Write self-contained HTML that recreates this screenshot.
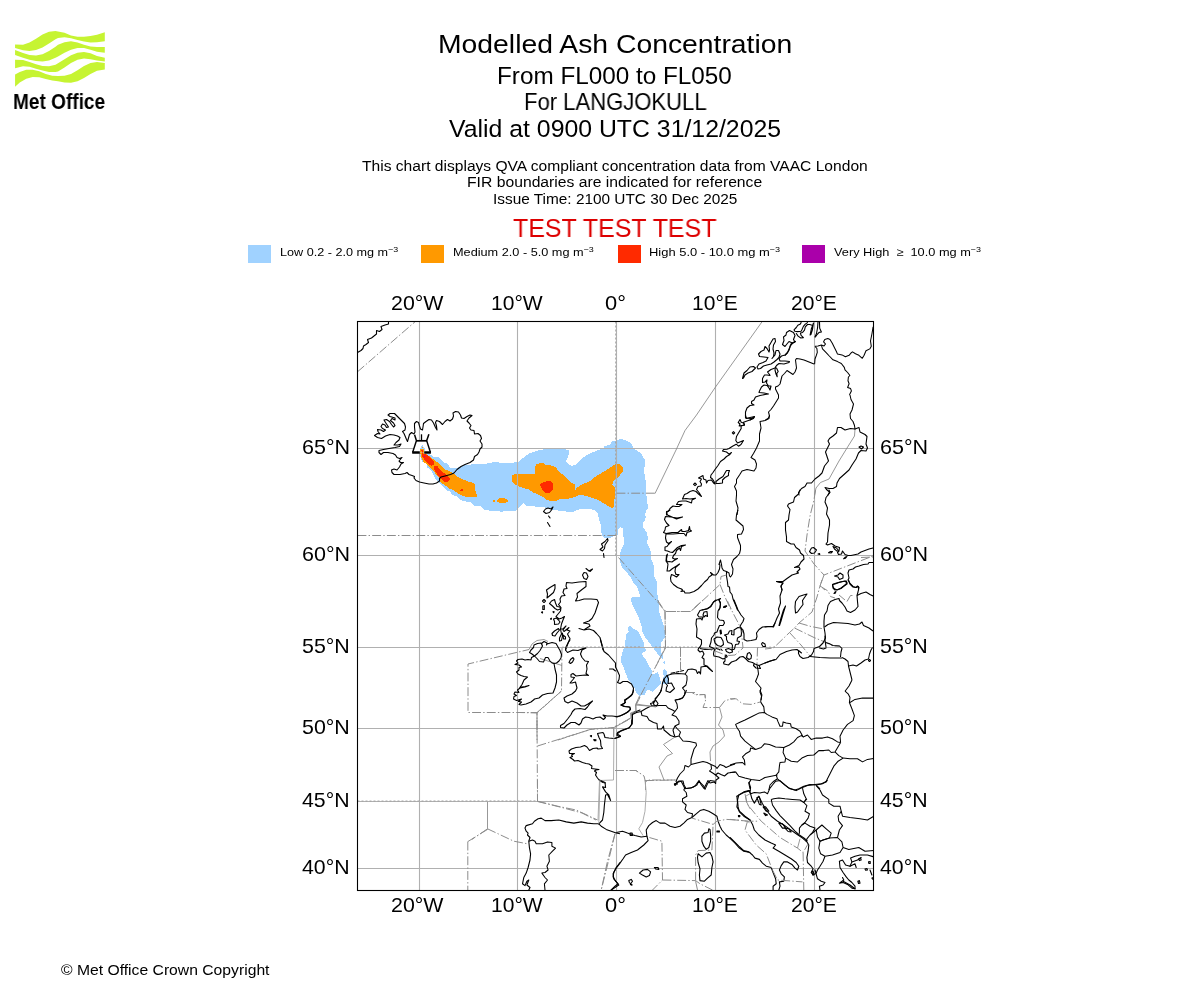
<!DOCTYPE html>
<html><head><meta charset="utf-8"><title>Modelled Ash Concentration</title>
<style>
html,body{margin:0;padding:0;background:#fff;}
body{width:1200px;height:1000px;position:relative;overflow:hidden;font-family:"Liberation Sans",sans-serif;color:#000;}
svg{position:absolute;left:0;top:0;}
.t{position:absolute;white-space:nowrap;line-height:1;transform-origin:0 0;will-change:transform;}
.t sup{font-size:70%;vertical-align:baseline;position:relative;top:-0.52em;line-height:0;}
.sw{position:absolute;top:245px;width:23px;height:18px;}
.c{fill:none;stroke:#000;stroke-width:1.1;stroke-linejoin:round;stroke-linecap:round;}
.b{fill:none;stroke:#000;stroke-width:1.05;stroke-linejoin:round;}
.f{fill:none;stroke:#858585;stroke-width:.85;}
.fd{fill:none;stroke:#8c8c8c;stroke-width:1;stroke-dasharray:8.9 2.2 1.4 2.2;}
.fs{fill:none;stroke:#a4a4a4;stroke-width:.9;}
.fl{fill:none;stroke:#9a9a9a;stroke-width:.8;stroke-dasharray:2 2;}
.g path{stroke:#b0b0b0;stroke-width:1.1;fill:none;}
</style></head><body>
<svg width="1200" height="1000" viewBox="0 0 1200 1000">
<g fill="#c6f432"><path d="M15.07 44.52 L23 44.85 L29.5 42.57 L36 38.67 L42.5 34.45 L49 31.85 L55.5 31.07 L58 31.52 L64.5 32.82 L71 35.42 L77.5 36.72 L84 36.72 L90.5 36.07 L97 34.77 L104.8 32.17 L104.8 41.27 L97 42.25 L90.5 42.57 L84 41.6 L77.5 39.97 L71 38.15 L64.5 37.31 L58 37.89 L55.5 39.32 L49 43.42 L42.5 47.45 L36 50.05 L29.5 51.02 L23 50.37 L15.07 48.1Z"/><path d="M15.07 50.05 L23 52.97 L29.5 54.92 L36 55.57 L42.5 54.27 L49 51.02 L55.5 46.8 L58 44.85 L64.5 42.25 L71 41.27 L77.5 42.57 L84 44.85 L90.5 46.47 L97 47.12 L104.8 47.12 L104.8 52.65 L97 51.67 L90.5 49.72 L84 48.1 L77.5 48.1 L71 49.72 L64.5 52.65 L58 56.55 L55.5 57.85 L49 60.45 L42.5 61.42 L36 61.1 L29.5 59.8 L23 57.85 L15.07 54.92Z"/><path d="M15.07 59.8 L23 60.12 L29.5 62.07 L36 64.35 L42.5 65.97 L49 66.3 L55.5 64.67 L58 63.37 L64.5 59.15 L71 55.25 L77.5 52.65 L84 52 L90.5 53.3 L97 55.9 L104.8 57.85 L104.8 61.42 L97 60.45 L90.5 59.15 L84 58.5 L77.5 59.8 L71 63.05 L64.5 67.6 L58 71.5 L55.5 72.02 L49 71.89 L42.5 70.59 L36 68.64 L29.5 66.82 L23 66.17 L15.07 68.25Z"/><path d="M15.07 74.62 L19.75 71.89 L26.25 69.74 L32.75 69.81 L39.25 71.37 L45.75 73.9 L52.25 75.79 L58 76.05 L64.5 75.72 L71 74.1 L77.5 70.2 L84 65.97 L90.5 63.05 L97 62.07 L104.8 63.05 L104.8 69.55 L97 70.85 L90.5 74.1 L84 78 L77.5 81.25 L71 82.87 L64.5 82.55 L58 81.25 L52.25 80.6 L45.75 78.97 L39.25 77.35 L32.75 77.02 L26.25 78.65 L19.75 82.55 L15.07 86.77Z"/></g>
<defs><clipPath id="cp"><rect x="357.5" y="321.5" width="516.0" height="569.0"/></clipPath></defs>
<g clip-path="url(#cp)">
<g id="pl">
<path d="M422.4 445.1 L423.1 445.4 L423.8 447.6 L424.9 449 L424.5 451.2 L424.2 453.7 L429.2 453.9 L431 454.8 L433 456.5 L439 457 L443 462 L447 463.5 L450 467.5 L456 468 L464 465.5 L474 464 L483 464.5 L489 463 L495 462 L499 462.5 L510 462.8 L510 463 L518 462 L523 458 L530 453 L536 451 L543 449.5 L551 448 L560 447.5 L564 449 L568.5 450.5 L569 454 L567 459 L566 462 L569 464.5 L572 466 L576 464.5 L580 460 L582 458 L589 454 L598 450 L604 448.5 L604.5 446 L610 445 L612 441.5 L616 441 L620 439 L625 440 L625 440 L630 442.5 L632.5 445.5 L633 448.5 L637 450.5 L641 453.5 L643 457.5 L645 460 L645 465 L644 470 L645 477 L646 482 L646 494 L647 498 L647 504 L648 505 L648 508 L646 511 L645 515 L646 517 L645 520 L643 523 L643 523 L643.5 528 L646.5 532 L648 538 L647 543 L650 549 L651 553 L650.5 558 L653 563 L654.5 570 L654 576 L656.5 581 L656.5 588 L657.5 595 L659 603 L659 610 L659 610 L660 615 L662 620 L664 627 L665 633 L665 637 L663 640 L661 642 L661 647 L661 652 L663 656 L663 659 L660 657 L657 653 L654 649 L651 645 L648 641 L645 637 L642.5 632 L642 627 L640 621 L637.5 615 L635 610 L637 614 L634.5 609 L632 604 L631 599 L632 596.5 L639 597.5 L640 596 L639 592 L637 587 L633 582 L631 578 L628 574 L624 570 L621 565 L619.5 560 L620 553 L622 548 L624 544 L624 540 L623 533 L622.5 528 L620 527 L618.5 529 L617.5 535 L614 536 L610 538 L605 538.5 L603 537 L601.5 533 L601 526 L600 520 L601 525 L599 520 L598 514 L596 511 L590 509 L584 509.5 L580 509 L574 511.5 L566 511.5 L554 510 L545 507.5 L530 506 L526.5 505.5 L523.5 503 L518 508 L516 510.5 L510 510.5 L515 510 L503 511.5 L500 511.5 L489 510.5 L484.5 510 L481 506.5 L474 505.5 L471 502.5 L466 501.5 L460 500 L458 497 L452 495 L451 492 L446 490 L443 486.5 L438 482 L435 478 L433 474 L431 470 L427.5 467.5 L426.5 464 L422.5 462 L420.9 458.4 L419.8 454.1 L419.8 449 L420.9 448 L421.3 446.2Z" fill="#a0d2ff" shape-rendering="crispEdges"/>
<path d="M630 626 L628 627.5 L628.5 631.5 L626 635 L625.5 640 L625 647 L623 650 L622 654 L621 658 L621.5 663 L624 668 L625.5 673 L628 679 L631 683 L634.5 688 L636 692 L639.5 696 L645 694.5 L646.5 690.5 L649 690 L652.5 691.5 L657 687.5 L661 683.5 L660 679 L658.5 674 L657.5 672 L654.5 674 L652 674 L651.5 669.5 L648 664.5 L646 659.5 L643 656.5 L642 653.5 L645.5 651 L645.5 648.5 L644 646 L643.5 642 L641.5 638 L639.5 633.5 L637 630.5 L633 628.5Z" fill="#a0d2ff" shape-rendering="crispEdges"/>
<path d="M662 662 L665 661 L665 665Z" fill="#a0d2ff" shape-rendering="crispEdges"/>
<path d="M662.5 670 L664.5 669 L667 671.5 L667.5 674.5 L669.5 675 L669 684 L663.5 683.5 L663 679 L664 676 L663 674Z" fill="#a0d2ff" shape-rendering="crispEdges"/>
<path d="M419.8 449 L423.8 449 L423.8 453.7 L426.3 454.4 L429.2 455.9 L432.1 458.4 L435.3 460.6 L440 464.5 L444 469 L448 470.5 L453 473 L457 476.5 L463 479.5 L468 481.5 L474 483 L475 484.5 L475 490 L476.5 494 L476.5 496.5 L467.5 497.5 L463 496 L459 494 L454 490.5 L449 488.5 L444 484.5 L440 482 L439 478 L436 475 L434 471 L430 468 L426.5 464 L423.4 462 L422.4 459.5 L421.3 457.7 L420.9 454.8 L419.8 453.4Z" fill="#ff9900" shape-rendering="crispEdges"/>
<path d="M497 500 L499 498.3 L504 498 L507.5 499.5 L507.8 501.5 L506 502.8 L500 502.8 L497.5 501.5Z" fill="#ff9900" shape-rendering="crispEdges"/>
<path d="M493 500 L495 500 L495 502 L493 502Z" fill="#ff9900" shape-rendering="crispEdges"/>
<path d="M422 446.9 L423.1 446.9 L423.1 448 L422 448Z" fill="#ff9900" shape-rendering="crispEdges"/>
<path d="M511.5 479 L512.5 475.5 L515 474 L522 474.5 L530 474 L535 473.5 L535 467 L536.5 464.5 L540 463 L544 463.5 L546 465 L551 465.5 L556 467.5 L558 470.5 L562 474 L566 477.5 L570 482 L575 484.5 L575.5 490 L577 487.5 L582 484.5 L590 481 L595 477 L600 474 L605 471 L610 467.5 L615 464.5 L619 464 L623 467.5 L623 471 L620 475 L617 478 L615 479.5 L613 482 L612.5 484.5 L615 488 L615.5 494 L614.5 499 L613.5 502 L614 506.5 L612 508 L608.5 506.5 L604 503.5 L598 500 L592 498 L586 496 L581 494.5 L578 495.5 L572 498 L566 499 L560 499 L557 500.5 L551 501 L546 500 L543 497 L538 494.5 L533 492.5 L529 489.5 L523 488 L518 486 L514 484 L511.5 481Z" fill="#ff9900" shape-rendering="crispEdges"/>
<path d="M420.9 450.1 L422.7 450.1 L422.7 451.2 L423.1 451.2 L423.1 453.7 L424.2 453.7 L427 454.8 L429.9 457.3 L432.8 460.2 L434 462 L434.5 464 L431.5 466 L428.5 464 L425 460.5 L424.2 459.1 L422 457 L422 454.1 L421.6 453.7 L421.6 451.2 L420.9 451.2Z" fill="#ff2a00" shape-rendering="crispEdges"/>
<path d="M434 466 L437.5 466.5 L440 469.5 L444 473 L447.5 476 L450 479 L448 481.5 L444.5 481.5 L441 479 L438 475.5 L435.5 472 L434 468.5Z" fill="#ff2a00" shape-rendering="crispEdges"/>
<path d="M460 490.5 L461.5 489 L463 489.2 L462.8 490.5 L461 491.2Z" fill="#ff2a00" shape-rendering="crispEdges"/>
<path d="M539 485 L543 482.5 L547 481 L551 481.5 L553 484 L553 490 L550 492.5 L545.5 492.5 L542.5 490 L541 487Z" fill="#ff2a00" shape-rendering="crispEdges"/>
<path d="M424 456 L425 456 L425 457 L424 457Z" fill="#aa00aa" shape-rendering="crispEdges"/>
</g>
<g class="g"><path d="M419.5 321.5 V890.5"/><path d="M517.5 321.5 V890.5"/><path d="M616.5 321.5 V890.5"/><path d="M715.5 321.5 V890.5"/><path d="M814.5 321.5 V890.5"/><path d="M357.5 448.5 H873.5"/><path d="M357.5 555.5 H873.5"/><path d="M357.5 647.5 H873.5"/><path d="M357.5 728.5 H873.5"/><path d="M357.5 801.5 H873.5"/><path d="M357.5 868.5 H873.5"/></g>
<path class="c" d="M357.5 352.5 L361 350.5 L363 348.5 L363.5 346 L366 344.5 L368.5 342.5 L367.5 339.5 L371.5 338 L376.5 334 L376.5 330.5 L379.5 331.5 L382 329.5 L381 326.5 L385 325 L388.5 324 L388.5 321.8"/>
<path class="fd" d="M357.5 371.8 L415 321.8"/>
<path class="c" d="M374.5 435.5 L377.5 433.5 L380 434 L378 431.5 L377.5 429.5 L381 430 L383.5 431.5 L385.5 430 L382.5 428.5 L381 426.5 L382.5 424 L385 425 L386.5 427.5 L388.5 427 L385.5 422.5 L384 420 L386.5 419.5 L389.5 421.5 L391.5 424.5 L393.5 427 L395 425.5 L393.5 423 L390.5 420.5 L392 418.5 L395 420 L395 418 L390 416.5 L388 415 L390 413.5 L394.5 413.5 L397.5 416.5 L401 420 L404.5 423.5 L405.5 427 L405 430 L402.5 431.5 L404 433.5 L405.5 437 L406.5 439.5 L407.5 441.5 L408.5 438 L409.5 434.5 L411.5 432.5 L414 434 L415 432 L414.5 427 L414.5 423.5 L416.5 421.5 L418.5 422.5 L419.5 426 L420.5 429 L422.5 430 L423 427 L423.5 423.5 L426 421.5 L429 419.5 L431.5 420 L433.5 423 L435.5 427.5 L437 430 L436.5 426 L435.5 422.5 L436.5 420.5 L439.5 421.5 L442.5 424.5 L445 421.5 L447.5 419.5 L450 421 L452.5 419 L453.5 416 L453 413 L455.5 411.5 L458.5 412 L460.5 415 L461.5 418 L464 418.5 L467 416.5 L470 415 L472 415.5 L469 418 L467 421 L469 423 L471 425.5 L469.5 428 L471 430 L474 430.5 L474.5 434 L478 433.5 L480.5 435.5 L481.5 438.5 L480 441 L482 444 L482 447 L480 449 L479 452 L477.5 454.5 L474.5 456.5 L473.5 460 L470 462.5 L465 464.5 L461 466.5 L457 469.5 L454 473 L450.5 474.5 L445 476 L441 477 L439.5 478.5 L439.5 481 L436.5 483 L433 484 L429 484 L424 483 L419.5 482 L416 480.5 L414 478 L414.5 476.5 L412 475.5 L409 474.5 L407 472.5 L405 473.5 L400 474.5 L394 474.5 L392 472.5 L391.5 470 L394 469 L397 470 L399.5 467 L401 464 L403.5 462.5 L400.5 462.5 L399 461 L402 457.5 L399.5 458.5 L397 457.5 L395.5 455 L393 453.5 L388 452.5 L383.5 452.5 L381 454.5 L379 452.5 L379 450.5 L383.5 449.5 L389 448.5 L395 447.5 L399.5 446.5 L401 444 L398 445 L394 445 L396 442.5 L399 440 L400 437.5 L397.5 436 L394 435 L390 434.5 L385.5 436 L381.5 438.5 L377.5 437.5Z"/>
<path class="f" d="M762 321.8 L715.5 387"/>
<path class="c" d="M742.5 378.5 L744 373 L747 370.5 L750 367 L753.5 366.5 L755.5 368 L752 371.5 L748 373 L745 375 L743.5 378Z"/>
<path class="c" d="M757 367 L759 364 L763 362.5 L766 361 L768 357.5 L764 357 L759.5 356.5 L758.5 354 L761 351.5 L764 350 L765 346.5 L767 348.5 L769 352 L769.5 350 L769 346 L771 342.5 L773 339 L775 338.5 L775.5 341.5 L773.5 345 L773 349 L774 353 L773.5 356.5 L772 358.5 L775 355 L776 350.5 L778.5 350.5 L780 354 L779 357.5 L777 359.5 L774 362 L771 364 L767 365 L763.5 366 L760.5 368.5 L758 369Z"/>
<path class="c" d="M795 341.5 L791 344 L789.5 348 L787.5 352.5 L785 355 L781.5 356 L779 358.5 L780 361 L785 361 L789.5 361.5 L789 362.5 L784 364 L779 363.5 L776.5 365.5 L775 368 L771 369.5 L767.5 372 L769.5 374.5 L770 375.5 L767 375 L764.5 375 L762.5 378.5 L762.5 382.5 L765 382 L767 380 L766.5 383 L768.5 386 L771 386 L770 390 L769 388 L767 385.5 L764 385 L761.5 387 L759.5 391 L759 392.5 L764 393 L768.5 394 L765 394.5 L760 395.5 L755.5 397 L754 400 L751.5 401.5 L751.5 403.5 L754 405 L750 405.5 L747 408 L745.5 412 L745.5 415.5 L746.5 418.5 L750 417.5 L754.5 416.5 L753.5 418.5 L750 420"/>
<path class="c" d="M775.5 367 L775 370 L776 374 L777.2 376.8 L776.8 373.5 L778.2 371.5 L776.5 368"/>
<path class="b" d="M814 364 L809 362 L804 360 L800 359 L796.5 358.5 L795.5 360 L796 364 L796.5 368 L795 372 L793 374.5 L790 372.5 L787 370.5 L784.5 373.5 L782 376 L781 380 L780 384 L778 386 L775.5 387 L775.5 389 L777 392 L778.5 395 L778.5 398 L776 402 L773.5 406 L771 409.5 L768.5 412 L769.5 416 L768 418.5 L765.5 420"/>
<path class="b" d="M873.1 326.8 L872 333.5 L870.5 341 L871.3 346.3 L869.8 348.9 L866 350.8 L864.1 355.3 L862.3 358.3 L858.9 355.3 L855.5 353.8 L852.5 351.9 L851 353 L849.1 355.3 L845.4 356.8 L842 354.9 L837.5 354.1 L836.4 351.5 L834.5 347.8 L832.3 343.3 L830 339.5 L827.8 338.6 L824.8 339.5 L823.6 341.8 L825.5 344 L824 345.9 L821.4 345.1 L818 345.9 L815 346.3"/>
<path class="b" d="M821.4 345.1 L822.5 348.9 L825.9 352.3 L829.3 356 L833 359.8 L837.5 361.6 L841.3 363.5 L844.3 367.3 L845 369.9 L847.6 372.5 L849.9 375.5 L848.4 377 L848 380.8 L849.1 383.8 L847.6 387.5 L850.6 388.6 L851.4 390.9 L849.9 393.9 L849.5 395"/>
<path class="b" d="M815 346.3 L816.9 348.5 L817.3 352.3 L816.1 356 L815 359 L814.6 364.3"/>
<path class="c" d="M815 336.9 L816.5 333.5 L817.6 327.5 L818 321.9"/>
<path class="c" d="M819.5 321.9 L819.7 328.3 L821.4 332 L819.1 332.4 L817.3 334.3 L815.4 336.9"/>
<path class="c" d="M810.1 335 L811.3 329 L813.5 323 L812.4 329.8 L810.9 334.6Z"/>
<path class="c" d="M801.1 322.6 L800.4 324.1 L797.8 325.3 L796.3 327.5 L794 329.8 L794.8 331.3 L797.4 331.6 L801.1 331.3 L801.9 329.8 L803.4 326.4 L805.3 324.1 L807.5 322.6"/>
<path class="c" d="M807.5 324.5 L809.8 324.5 L812 325.3"/>
<path class="c" d="M796.3 333.5 L798.1 336.1 L800.8 338 L803.4 337.6 L801.1 335.4 L800.4 333.1 L802.6 332.4 L804.5 330.1 L805.3 326.8 L807.5 324.5"/>
<path class="c" d="M782.5 344.5 L784 340.5 L783.5 337 L786 335 L786.5 332.5 L789.5 330.5 L793.5 332.5 L795 335.5 L793.5 339.5 L795 342 L792.5 343 L789 341.5 L786.5 344.5 L785 346.5Z"/>
<path class="c" d="M795.5 341.4 L792.5 343.3 L790.3 345.9 L789.1 350 L787.3 353 L785 355.3"/>
<path class="f" d="M696.5 415 L685 430.5 L676.5 449 L655 493.5"/>
<path class="c" d="M745.5 415 L745.5 418 L751 418.5 L754.5 416.8 L750.5 419.8 L743.5 422.2 L744.5 425 L741 426 L741.2 428.5 L738.5 433 L736.5 436.5 L735.8 440.5 L737.5 443 L743.5 440.5 L741 444.5 L738.5 446.2 L736.2 444.2 L732.5 446.2 L729 448.5 L727 449.2 L723.5 449.5 L722.5 451 L726.5 452 L729 454.2 L731.5 452.5 L729.5 454.8 L726.5 456.5 L724 459 L720.5 461.5 L718 465.5 L715 469.5 L713 472.5 L711 475 L710.5 477.5 L712.5 479 L714 481.5 L715 484 L713.5 483 L711.5 480 L708 480.5 L706.5 483 L706 480 L703.5 479 L703 475.5 L698.5 478 L701.5 479 L700 481.5 L701.5 484 L701 486 L698 486.5 L696.5 489.5 L699 492.5 L701.5 496.5 L698.5 494 L696 491.5 L693 490.5 L690 491.5 L687 493.5 L684.5 494.5 L682.5 499 L686 498.5 L690 499 L695.5 498.2 L692 500 L691.5 503 L689 502 L686 501 L682 501 L678.5 501.5 L676.5 504.5 L682 504.5 L679 506.5 L676 506.5 L673 506 L670 508.5 L668.5 511 L666.5 511.5 L666.5 515"/>
<path class="c" d="M732.3 432.8 L733.5 431.6 L734.7 432.8 L733.5 434Z"/>
<path class="c" d="M693.5 484.3 L695 483 L696.5 484.3 L695 485.6Z"/>
<path class="c" d="M716 481.5 L719 479 L723 476.5 L725 473 L726.5 470.5 L729.5 470.5 L728.5 473 L728.5 475.5 L725 477.5 L722.5 480 L722.5 483 L719 483.5 L716 483.5Z"/>
<path class="c" d="M740 419.5 L738.2 422.5 L740 424 L739.2 426 L742 425.5 L744.5 425 L743.5 423 L741.2 422.2Z"/>
<path class="b" d="M769.5 415 L769 418.5 L765 420.5 L760 421.5 L761 428 L759.5 434 L759.5 441 L756.5 448 L753.5 453.5 L751 457.5 L755 460 L756.5 464 L756 468 L754 471 L747 469.5 L742 471 L739.5 475 L736.5 479.5 L736.5 483 L734.5 486.5 L736.5 491 L736.5 495 L736 501 L738 508 L737 515"/>
<path class="c" d="M670 510 L666.5 512.5 L667.5 515 L672 517 L676.5 519 L682.5 517 L677 518 L671 517 L665.5 516.5 L664.5 519.5 L666.5 523 L669 525.5 L665.5 527 L665 530 L663.5 532.5 L666 533.5 L672 532.5 L678 532.5 L681.5 529.5 L682 531.5 L685 531.5 L688.5 530.5 L689.5 526.5 L690 530 L691.5 531 L687 532.5 L686 536 L684 533.5 L679 533.5 L673 534 L666 534 L665.5 538 L666.5 542 L668.5 543.5 L671.5 541.5 L668.5 544.5 L667 546.5 L665 547 L665 550.5 L667.5 551 L670 552 L672.5 552.5 L675 550 L677.5 547.5 L681.5 545.5 L685.5 545 L681.5 546.5 L680.5 550.5 L679.5 548 L676.5 550.5 L675.5 553.5 L673.5 555.5 L672.5 558 L674.5 559 L677.5 558.5 L674 560.5 L672 562 L669 561.5 L667 562 L666.5 559 L667.5 554 L666.5 555.5 L666 561 L668 564 L667.5 568 L667 571 L669.5 571 L672.5 568.5 L676.5 566 L679.5 564 L675.5 567.5 L675 571.5 L676 574.5 L679 574.5 L676.5 577 L674 575.5 L671.5 574.5 L670.5 578 L671 581.5 L673.5 584.5 L677.5 587.5 L681.5 589 L682.5 590 L681 591.5 L684 591 L685 593 L689.5 593 L694 591.5 L698 589 L701.5 585.5 L704.5 582 L707.5 579.5 L709 577 L712 575 L710.5 572.5 L713.5 575 L716 575 L718 572.5 L719.5 569 L720 565 L719 564.5 L720.5 560 L721.5 564.5 L722 568 L723.5 570.5 L726.5 571.5"/>
<path class="b" d="M738 510 L736.5 515 L736 520 L739.5 523 L743 526 L743.5 529.5 L741.5 534 L737.5 534.5 L737.5 537.5 L739 541.5 L740.5 545.5 L740.5 549.5 L739.5 553.5 L737 556.5 L733.5 559.5 L731.5 564.5 L733 569 L732.5 574 L730.5 577 L729.5 576 L729 573 L726.5 571.5"/>
<path class="c" d="M726.5 571.5 L726.5 576 L727.5 582 L728 586.5 L729.5 587 L730 592 L732 594.5 L733 599 L734.5 602.5 L736 606 L737.5 610"/>
<path class="fd" d="M726.5 575 L721 576.5 L720 584.5 L692.5 610"/>
<path class="fd" d="M720 584.5 L725 597 L731 610"/>
<path class="c" d="M702 610 L707 609 L710 607 L713.5 602 L716 600.5 L720.5 598.5 L719 600 L720.5 604 L720 608 L719 610"/>
<path class="c" d="M723.5 607.2 L725 606.2 L726.6 606 L725.2 607.2Z"/>
<path class="fd" d="M657.5 600 L665 611.5 L690.5 611.5 L703 600"/>
<path class="fd" d="M665 611.5 L665.5 647 L655 668"/>
<path class="fl" d="M655 647 L700 647"/>
<path class="fd" d="M700 647 L707 649 L715 651 L723 654 L729 655.5 L735 655 L743 648 L742 638 L740.5 628 L738 622.5 L733 613 L727 600"/>
<path class="fd" d="M680.5 647 L680.5 669 L683 671.5"/>
<path class="fl" d="M775 647 L757.5 647.6"/>
<path class="fd" d="M757.5 647.6 L757 664"/>
<path class="fd" d="M686 692.5 L692 692.5 L695 694.5 L705 694.5 L705.5 700"/>
<path class="c" d="M698.5 648.5 L700 647 L701.5 644 L701.5 640 L696.5 637 L697 629 L696 624 L696.5 619 L701 618.5 L702 620 L703 617 L699 617 L697.5 615 L700 610.5 L704 609.5 L707.5 608.5 L711 606.5 L713.5 602 L716 600"/>
<path class="c" d="M719 600 L720.5 602.5 L720 607.5 L718 611 L717.5 617.5 L719.5 620 L723.5 620.5 L724.5 623 L723 625.5 L719.5 625.5 L718 629 L717 632 L714.5 633 L714 635 L711.5 638 L711 642 L709.5 646.5 L713 648 L715 649.5 L714 651 L713.5 654 L714 656 L719 657 L723 659 L725 658 L725 661 L723.5 662.5 L724 664 L728.5 665 L731.5 662 L736 660.5 L740 657 L743 656.5 L745.5 658.5 L748.5 661.5 L752.5 662.5 L755 664 L759 665.5 L760.5 668.5 L756 668 L753.5 665.5 L754 664"/>
<path class="c" d="M704 612 L707 611.5 L707.5 616.5 L705.5 615.5 L704 617 L703 615Z"/>
<path class="c" d="M746.5 657.5 L747.5 653.5 L749.5 652.5 L751.5 655.5 L751 658.5 L749 659.5Z"/>
<path class="b" d="M757 665 L758 670 L758.5 674 L757 678 L755.5 681.5 L758.5 685 L761 688 L760 692 L761.5 696 L761 700"/>
<path class="c" d="M759 665.5 L765 663 L775 659.5"/>
<path class="c" d="M714 639 L717 637 L721 637.5 L723 641 L723.5 644.5 L721 646.5 L717.5 645.5 L715 643Z"/>
<path class="c" d="M724.5 635 L728 634 L729.5 631 L732 630.5 L731.5 634.5 L734 635 L734 630 L738 627.5 L741 628 L742 631 L741 636 L737.5 638 L737 641 L739.5 641.5 L738.5 644 L735.5 644.5 L734.5 649 L732 650 L732.5 645.5 L731.5 643.5 L728 642.5 L726.5 639.5 L726.5 636.5Z"/>
<path class="c" d="M725.5 649.5 L728.5 648.5 L732 650 L732.5 652 L729.5 653 L726.5 651.5Z"/>
<path class="c" d="M720 630.5 L721 630 L721.5 633.5 L720.5 634Z"/>
<path class="c" d="M716 648 L717.5 649"/>
<path class="c" d="M718.5 649 L720 650"/>
<path class="c" d="M721 649 L722.2 650.5"/>
<path class="c" d="M725 656 L726.5 655.2 L727.2 656.8 L725.8 657.5Z"/>
<path class="c" d="M723.5 607.2 L725 606.2 L726.6 606 L725.2 607.2Z"/>
<path class="c" d="M734 600 L736 605 L738 610 L741 615 L744 618.5 L743 621.5 L741 624.5 L740 626.5 L743 630 L744 634 L744 639.5 L747 641 L751 640.5 L756 639.5 L757 636.5 L756.5 633 L759 629.5 L762.5 627 L768 626.5 L773 626.5 L775 623"/>
<path class="c" d="M761.5 644 L762.5 642.5 L765 644 L765.5 646.5 L763 646.5Z"/>
<path class="b" d="M700 648.5 L705 649.5 L713.5 649"/>
<path class="c" d="M698.5 648.5 L698 650 L700 652 L702.5 651 L704 654 L702 657.5 L704 659 L704 665 L707 666 L709.5 668.5 L712.5 671.5 L709.5 669 L707 666.5 L704 666.5 L701 667 L700.5 674 L699 671.5 L697.5 673.5 L696 670 L692 669 L688 669.5 L686.5 672 L685 674 L678 673.5 L672 674 L667 675.5 L664 679 L662.5 683 L662 687 L660.5 692 L657 697 L655 699"/>
<path class="c" d="M667 675.5 L668.5 679 L668 683.5 L671.5 683 L673 686 L674.5 688.5 L670 692.5 L666 691 L666.5 687.5 L667.5 685.5 L664.5 682 L664 679"/>
<path class="c" d="M671 673.2 L674.5 672.5"/>
<path class="c" d="M676 672.2 L679 671.5"/>
<path class="c" d="M680.5 671.2 L683.5 670.5"/>
<path class="b" d="M685 674 L687 676 L687 680 L686 685 L682.5 688 L685 691 L684.5 695 L682 698.5 L675.5 700"/>
<path class="f" d="M715.5 387 L696.5 415"/>
<path class="fd" d="M616.5 493.2 L655.5 493.2"/>
<path class="b" d="M850 395 L851 399.5 L853.5 404 L852 410 L850 414 L850.5 418.5 L853 421.5 L854.5 425.5 L855 429"/>
<path class="f" d="M855 429 L854.5 436 L847 448 L839 461 L829 479 L820.5 482.5 L816 488 L814.5 495"/>
<path class="c" d="M855 429 L850.5 428.5 L845 430 L841 427.5 L837.5 427.5 L836.5 433 L833 436 L829.5 438.5 L828 441 L829.5 444 L827.5 448 L825.5 452 L827 456.5 L828.5 461 L824.5 466 L822 473 L819 476 L815 479 L811.5 483 L807 483 L805 486.5 L801.5 488.5 L798.5 492.5 L799 495"/>
<path class="c" d="M855 429 L859 427.5 L860 432 L865 434.5 L867 436.5 L866 444 L867.5 448 L866 451 L861 450.5 L858.5 453 L856 459 L852 465 L849 470 L844 474.5 L839.5 478.5 L837 483 L836.5 486.5 L833 488.5 L829 488.5 L825 487.5 L826.5 489.5 L829.5 492 L828 495"/>
<path class="c" d="M859 447 L861 446 L863.5 447 L861.5 449Z"/>
<path class="c" d="M800 490 L798.5 494 L794.5 497.5 L793.5 502 L788.5 504 L787.5 506 L790 509.5 L789 515 L788.5 520 L785.5 522.5 L785.5 530 L786.5 537 L786.5 541.5 L791 544 L794 544 L796 547.5 L799.5 550 L800.5 553 L803.5 555.5 L804 559 L801 562 L799 565.5 L794.5 567.5 L799 567 L800 569 L797 572 L798.5 573 L792 575 L787 578.5 L783 581.5 L776.5 581.5 L783 583 L781 586 L782 590"/>
<path class="fd" d="M815.5 490 L814 500 L810 516 L807 535 L805 551 L814 564 L824 575 L873 556"/>
<path class="fd" d="M824 575 L820 586 L825 590"/>
<path class="fd" d="M861 557.5 L873 557"/>
<path class="c" d="M829 490 L830 492.5 L826 497.5 L825 502 L827.5 508 L826.5 514 L829.5 520 L829.5 525 L828 533 L827.5 542 L826 544 L827.5 545 L831.5 543.5 L835 546 L839.5 547.5 L839 551 L837.5 552.5 L838.5 554.5 L841.5 554 L842.5 551 L845 554.5 L848 555.5 L851 555.5 L858 554 L861 552 L865 550.5 L869 549 L873 548"/>
<path class="c" d="M809.5 551.5 L811.5 548 L813.5 547.5 L816.5 550 L814.5 553 L811.5 553.5Z"/>
<path class="c" d="M818 554 L819.5 553.5 L819.8 554.5Z"/>
<path class="c" d="M828.5 552.8 L830.5 551.5 L832.5 551.5 L831 553Z"/>
<path class="c" d="M833 546.5 L836.5 548 L838.5 550.5 L837 551.2 L834.5 549Z"/>
<path class="c" d="M843.5 558.8 L845.5 557 L847 556.5 L845.5 558.2Z"/>
<path class="c" d="M873 562.5 L869 562.5 L868 564 L863.5 564.5 L859 566 L855.5 567 L853 569 L849 570 L848 573 L849 578 L848 580 L850 583.5 L853 586.5 L856 587.5 L858.5 586.5 L858.5 590"/>
<path class="c" d="M834.5 576 L838 575 L840 573 L843 575 L843 578 L839.5 579.5 L838 577Z"/>
<path class="c" d="M832.5 584.5 L835 584 L839 582.5 L843 581.5 L846.5 581 L847 584 L844 586 L841 588.5 L837 590 L834 588.5 L833 586.5Z"/>
<path class="c" d="M776.5 581.5 L783 583 L781 586 L782 590 L780 596 L780.5 603 L778.5 609 L779.5 613 L777 618 L775 623 L773.5 627 L770 626.5 L765 627"/>
<path class="c" d="M779 625.5 L781 618 L783.5 610 L785.5 606 L783 614 L781 621 L779.5 625.5Z"/>
<path class="c" d="M795.5 613 L795 607 L795.5 601.5 L799 596.5 L803.5 595 L807 594 L804.5 597.5 L802.5 600.5 L803 604.5 L800 608.5 L797.5 612Z"/>
<path class="fd" d="M822 580 L820 586 L817 597 L814 606 L812 612 L799 623 L794.5 628 L789.5 632.5 L773.5 648 L765 649"/>
<path class="fd" d="M820 586 L828 591 L830.5 596.5 L835 598"/>
<path class="fd" d="M799 623 L811 626.5 L824 629"/>
<path class="fd" d="M794.5 628 L814 637.5 L826 642.5 L833 646 L839.5 646"/>
<path class="fd" d="M789.5 632.5 L801 645 L810 656"/>
<path class="fd" d="M839 595 L845 600"/>
<path class="fd" d="M847 601.5 L850.5 595.5 L853 595.5"/>
<path class="c" d="M832.5 584.5 L835 583.5 L840 582 L845 581 L847 583 L844.5 585.5 L841 588 L838 589.5 L835 590 L833 588Z"/>
<path class="c" d="M834 593.5 L835 592 L836 591.5 L835.2 593.2Z"/>
<path class="c" d="M848.5 580 L850 584 L853 587 L856 587.5 L857.5 586 L859 587.5 L858 592 L857 595.5 L857.5 601.5 L858 606.5 L855 610 L850.5 612.5 L847 611 L845 607 L842 603 L839.5 600.5 L839 598.5 L835 599.5 L830.5 601.5 L828 605.5 L827 611 L824.5 615 L824 621 L824 627 L825 633 L825.5 638 L823 643 L819.5 646.5 L814 648.5 L813.5 651.5 L811.5 655 L808 657.5 L803 658.5 L800 656.5 L798.5 653.5 L798.5 650.5 L801.5 653 L797 649.5 L792 650 L786.5 651.5 L780 654.5 L776 659.5 L770 661 L765 663"/>
<path class="b" d="M857 595.5 L861 593.5 L866 592 L870 594.5 L873 596"/>
<path class="b" d="M824.5 627 L828 624.5 L833.5 622.5 L841 623 L848 623.5 L855 625 L859.5 624 L862 622 L863.5 625.5 L869 628 L873 631"/>
<path class="b" d="M825.5 642.5 L829 643.5 L833 645.5 L839.5 646 L842 648.5 L841 652 L840.5 657"/>
<path class="b" d="M810 656.5 L820 657.5 L830 658 L842 658"/>
<path class="b" d="M842 657.5 L845 659 L848 661.5 L848.5 666 L850 672 L852 680"/>
<path class="b" d="M848.5 666 L853 665 L856.5 666 L861 663 L865 660 L868.5 659 L869.5 654 L871 650 L872.5 647.5"/>
<path class="c" d="M868.5 660.5 L869.5 659.5 L870.5 660.5 L869.5 661.5Z"/>
<path class="c" d="M825 636 L825 640 L826 647"/>
<path class="c" d="M819.5 648 L823.5 649 L826 648"/>
<path class="c" d="M603 650 L602.5 647 L601.5 643 L600 637.5 L596.5 633.5 L593.5 630.5 L589 629 L584 630 L579 628.5 L584 630 L586 628.5 L590 626 L589 624 L583.5 623 L589 621 L592 618.5 L595 613 L597 607 L598.5 602.5 L597 599.5 L591 599 L584 599 L579 600.5 L575.5 601 L577.5 597 L577 593.5 L582 589.5 L586 586.5 L586 581.5 L579 582 L572 583 L566.5 582.5 L566 586 L567 588.5 L564 589 L563 592.5 L565 595.5 L561.5 596 L560 599 L560.5 602 L558.5 604.5 L561 607.5 L560.5 611 L558.5 613.5 L556 616.5 L559 619 L562 618 L564.5 616.5 L563 620 L561.5 624 L560.5 629 L563 629 L566 626 L563 630 L564 631.5 L569 627.5 L567 630 L570 631 L567.5 634 L569 637 L570 638.5 L568.5 642 L567 646 L565.5 650"/>
<path class="c" d="M560.5 629 L561.5 634 L559.5 638 L559.5 641 L561.5 640.5 L562.5 636 L562.5 633"/>
<path class="c" d="M563 635 L565.5 637 L565.5 639 L563.5 639Z"/>
<path class="c" d="M546.5 590 L550 587.5 L555 584.5 L555 588.5 L553.5 592.5 L550 595.5 L547 598 L547.5 594Z"/>
<path class="c" d="M542.5 601 L544 599.5 L545.5 601 L544 602.5Z"/>
<path class="c" d="M542.8 606 L544.3 605.5 L544.3 609.5 L542.8 609.5Z"/>
<path class="c" d="M541.5 612.2 L542.5 611.8 L542.5 613Z"/>
<path class="c" d="M549.5 603.5 L551.5 601 L554.5 599.5 L555.5 603 L557 606.5 L560 607 L560.5 609 L557.5 610 L555 608.5 L552.5 606Z"/>
<path class="c" d="M553.5 619 L556.5 618 L558.5 620 L560 622 L558.5 624 L554.5 624.5 L554.5 621.5Z"/>
<path class="c" d="M552 633.5 L554.5 631 L558.5 628.5 L559.5 630 L557 633 L555 636 L552.5 635.5Z"/>
<path class="c" d="M553 611.8 L554 611.5 L553.8 612.8Z"/>
<path class="c" d="M550.5 618.8 L551.5 618.2 L551.2 619.5Z"/>
<path class="c" d="M582.5 575 L584 572.5 L586.5 573 L588 576.5 L586.5 579.5 L584 578.5Z"/>
<path class="c" d="M586 568.5 L589 571 L592.5 569 L590 571.5"/>
<path class="c" d="M607.5 538.5 L605 541.5 L601.5 544 L603 547 L600 549.5 L602.5 551 L604.5 548.5 L605 545 L608 540.5Z"/>
<path class="c" d="M603.5 553.5 L604 557.5"/>
<path class="c" d="M543.5 511.5 L545.5 509 L548 508 L551 509 L553 507 L551.5 510 L549.5 512.5 L546 513.5Z"/>
<path class="c" d="M548.5 516 L550 518 L549.5 517"/>
<path class="c" d="M547.5 522.5 L550 526.5"/>
<path class="c" d="M600.5 640 L602 645.5 L604 651.5 L608.5 655 L612 659 L615.5 663 L615.5 667 L617.5 671 L619.5 675.5 L619 679.5 L617.5 682.5 L620 683.5 L623 681.5 L627.5 681.5 L631.5 684 L633.5 688 L633 692 L631.5 695.5 L628 698 L625 700.5 L624.5 703.5 L621 705 L624 706.5 L629 707 L630.5 709 L628.5 711.5 L624.5 714 L620 716 L616.5 716.5 L612 716 L607 716 L603 715 L605.5 717.5 L603.5 719.5 L600 717 L596 717.5 L593 719 L589 717.5 L585.5 717 L582.5 719 L581 723 L579 725 L575 722.5 L571 722.5 L567 725 L564 728 L560.5 727.5 L560.5 725.5 L564 723.5 L568 718.5 L571 714.5 L572.5 711.5 L575 709 L580 708.5 L585 709.5 L587.5 707 L590 703.5 L592.5 701 L588 704 L584.5 706 L581 706 L577 703 L572 701 L568 703 L565 701.5 L564 698 L567 696 L572 694 L575.5 691 L577 688 L575.5 682 L572 683 L570 683 L573 679.5 L574.5 677.5 L571 677 L571 674.5 L573 673.5 L576 676 L580 675.5 L585.5 675 L588.5 675.5 L586 673.5 L587 669 L586.5 665 L588.5 661.5 L585 661 L582 657.5 L580.5 654 L582 650 L586 648 L583 648.5 L578 650.5 L573 650 L567.5 652.5 L565.5 650 L566 647 L568 643 L570 640"/>
<path class="c" d="M609.5 669 L613 669 L615.5 671"/>
<path class="c" d="M569 662.5 L570.5 659.5 L573 657.5 L574 659 L572.5 662 L570.5 663.5Z"/>
<path class="fl" d="M562 647.2 L590 647 L616 647.1 L640 646.8"/>
<path class="fd" d="M562 648 L561.5 691 L537 713 L520 712.5"/>
<path class="fd" d="M537 713 L537 740"/>
<path class="f" d="M540 658.5 L562 665.5"/>
<path class="fd" d="M558 740 L590 729.5 L614 727.8 L631 717.8"/>
<path class="f" d="M631 717.8 L630.5 713 L636 711 L636 705 L640 697.5"/>
<path class="fd" d="M613.5 728 L613.5 738"/>
<path class="c" d="M640 710 L635 712 L632 714 L632.5 718 L632 724"/>
<path class="fd" d="M537 730 L537 712.5 L468 712.5 L468 664 L529 649.5"/>
<path class="f" d="M529 649.5 L532 644 L537 640.5 L544 639.5 L548 641.5"/>
<path class="fd" d="M537 712.5 L561.5 691"/>
<path class="c" d="M518 659.5 L522 659 L525 660 L528 659.5 L531 660 L531.5 657.5 L534.5 656 L532 654 L529.5 652.5 L531 650 L533.5 647.5 L534 645 L537.5 643.5 L541 643 L542.5 646 L541.5 643.5 L544 641.5 L547 643 L546.5 645 L547 644 L552 642.5 L556 643.5 L558 647 L560 650.5 L561.5 654.5 L561 658 L559 661 L556.5 663 L554 663.5 L555 669 L556.5 675 L556.5 682 L555 688 L553 693 L547.5 693.5 L542.5 695 L539 698 L534.5 699 L533.5 700 L531 702 L526 704 L521 705 L519 704.5 L521.5 702 L518.5 701.5 L521.5 699 L516.5 700.5 L513.5 699 L514 696.5 L516.5 695.5 L514 694 L515 692 L519 692.5 L517.5 690 L520 688 L525 687 L529 685.5 L525 686.5 L521.5 687 L519.5 688 L522 684.5 L524 680 L527.5 677 L524 676.5 L521 675.5 L518 674 L516.5 672 L519 670 L519 667.5 L521.5 667 L519 665 L515 664.5 L518 663 L516.5 661Z"/>
<path class="b" d="M542.5 646 L540 650.5 L537.5 653.5 L534.5 656 L537 658.5 L539.5 661.5 L543.5 662 L545.5 657.5 L548 657.5 L550 661 L552 663 L554 663.5"/>
<path class="c" d="M632 720 L632 724 L629.5 727.5 L625 729.5 L620 731.5 L617 734 L620.5 736 L617.5 737.5 L614 738.5 L609 738 L605 737.5 L604 734 L603 732.5 L600 733 L597.5 733.5 L599 737.5 L600.5 740.5 L601 746 L602.5 748.5 L598 749 L597 748 L593 748.5 L589.5 750.5 L587 747 L584.5 745.5 L580.5 747 L576 747.5 L571.5 749 L569 751 L569.5 753.5 L574.5 753.5 L571.5 755 L572.5 756.5 L570 757.5 L573 759.5 L574.5 761 L578 760.5 L582.5 762.5 L586 763.5 L589 764 L592 766 L591.5 768.5 L595 769 L599 769.5 L596 770 L594.5 771 L596.5 772.5 L595.5 775 L597.5 778 L599.5 780.5 L603 782.5 L605.5 783"/>
<path class="c" d="M590.3 735.8 L591.5 735.5 L591.4 736.8Z"/>
<path class="c" d="M593.8 739.5 L596 739.7 L595.8 740.8 L594.2 740.6Z"/>
<path class="fd" d="M537.5 746 L592 729 L614 727.5 L628 720"/>
<path class="fd" d="M537.5 801.5 L560 807 L582 813 L596 820"/>
<path class="fs" d="M614 728 L613.5 780 L599.5 780.5 L598 820"/>
<path class="fd" d="M615 770.5 L636 770.5 L640 773.5"/>
<path class="fd" d="M537 720 L537.5 801"/>
<path class="c" d="M633.5 690 L632.5 694 L628 698 L624.5 700 L625.5 702.5 L621 705 L625 706.5 L630 707 L630.5 709.5 L627 712.5 L622 715 L617 717 L615 716.5"/>
<path class="c" d="M615 738.5 L620.5 736.5 L617 735.5 L617.5 732.5 L622.5 730 L629 728 L631.5 724.5 L632 720 L632.5 714.5 L636.5 712.5 L641 711.5 L646 708.5 L650 706.5 L654.5 706 L651.5 705.5 L650.5 703.5 L654 702.5 L655 700.5 L656 698 L659 694.5 L661.5 690"/>
<path class="c" d="M653 701.5 L656 700.5 L658 703.5 L656.5 706 L654 705Z"/>
<path class="b" d="M641 711.5 L642 715.5 L647 716.5 L649 720 L653.5 722.5 L657 723.5 L657.5 729 L661.5 729 L663.5 726 L664 730 L667 732.5 L670.5 735.5 L675 737"/>
<path class="b" d="M654.5 706 L659 705.5 L666 705.5 L668 708 L672.5 710 L675 711.5"/>
<path class="b" d="M686.5 690 L685 694 L683 697.5 L679 699.5 L675 700 L677 704 L677.5 708 L675 711.5 L672 715 L676 716.5 L679 721 L679 724 L675 726 L673 730 L674 734 L675 737 L679 736 L680.5 732 L677 728.5 L675 726"/>
<path class="b" d="M679 736 L683 741 L689.5 741.5 L696 743 L696.5 745.5 L694 749 L692.5 754 L691 759 L691 764.5"/>
<path class="b" d="M691 764.5 L697 763 L703 761.5 L707 762.5 L711 764.5 L715.5 766.5 L717 768.5 L720 764.5 L724 766 L726 767.5 L730.5 765.5 L735 764"/>
<path class="b" d="M711 764.5 L711.5 769 L709.5 771 L713.5 773.5 L715.5 775 L718 773 L721 774.5 L724.5 776 L728 773 L735 772"/>
<path class="b" d="M715.5 775 L719 778 L716 780 L715.5 784"/>
<path class="b" d="M691 764.5 L688.5 767 L685 765.5 L684 770 L680 774 L677.5 778 L676 781.5 L677.5 784 L675 784.5 L679 781 L683 781 L684 785 L686 788.5 L691 788 L695 786 L699 780.5 L701 784.5 L704 788.5 L708 780.5 L710 783 L714 782 L716 783.5"/>
<path class="fd" d="M615 770.5 L636 770.5 L644 776 L645.5 782 L649 780 L676 780"/>
<path class="fd" d="M645.5 782 L645.5 790"/>
<path class="f" d="M675 737 L663.5 744.5 L672.5 753.5 L667 756 L659 767 L664 780"/>
<path class="fd" d="M686 692.5 L695 692.5 L696.5 695 L705 694.5 L705.5 701 L703 707.5 L719.5 707.5"/>
<path class="f" d="M719.5 707.5 L722 717 L718.5 725 L723 730 L724.5 736 L719 742 L713 746 L710 752 L710.5 761"/>
<path class="fd" d="M719.5 707.5 L725 700.5 L735 698.5"/>
<path class="f" d="M639.5 696 L635.5 705 L636 711.5 L631 714"/>
<path class="f" d="M635.5 705 L654.5 706.5"/>
<path class="fd" d="M630 718.5 L615 726.5"/>
<path class="fd" d="M357.5 535.5 L616 535.5"/>
<path class="fl" d="M615.6 321.5 L615.6 556"/>
<path class="fd" d="M618.5 557.5 L659 603.5 L665 611.5 L690.5 611.5 L700 603"/>
<path class="fd" d="M665 610 L665.5 647"/>
<path class="fd" d="M665.5 648 L636 704"/>
<path class="f" d="M636 704 L656 707"/>
<path class="fd" d="M680.5 648 L680.5 670"/>
<path class="b" d="M760 690 L761.9 695 L760.6 701.9 L763.8 706.9 L764.4 712.5"/>
<path class="b" d="M764.4 712.5 L758.8 713.1 L752.5 716.2 L745 720 L739.4 722.5 L735.6 724.4 L736.9 727.5 L739.4 731.2 L740.6 736.2 L745 741.2 L750.6 745.6 L755.6 749.4 L761.2 747.5 L764.4 743.8 L769.4 744.4 L775.6 746.9 L783.8 747.5 L789.4 745 L793.8 741.9 L797.5 737.5 L801.2 735.6 L803.1 736.9 L800 731.2 L796.2 728.8 L791.2 726.9 L790.6 723.8 L786.2 723.1 L783.1 721.9 L782.5 726.2 L780 726.2 L778.1 721.9 L776.9 718.8 L771.9 716.9 L766.9 714.4Z"/>
<path class="b" d="M803.1 736.9 L807.5 735 L811.2 739.4 L816.2 738.1 L822.5 738.1 L827.5 736.9 L832.5 738.8 L837.5 741.9 L840.6 742.5"/>
<path class="b" d="M840.6 742.5 L840 736.2 L843.1 730 L847.5 724.4 L853.1 720.6 L854.4 715.6 L851.9 708.8 L849.4 702.5 L850 697.5 L848.1 693.8 L845 691.2"/>
<path class="b" d="M850 702.5 L855 699.4 L862.5 698.1 L873.5 698.1"/>
<path class="b" d="M783.8 747.5 L783.1 752.5 L785.6 758.1 L791.2 761.2 L797.5 761.9 L801.9 758.1 L807.5 755.6 L813.8 755 L818.8 750.6 L823.8 750.6 L828.8 750 L831.2 752.5 L835 751.9 L840.6 742.5"/>
<path class="b" d="M835 751.9 L838.8 755.6 L843.1 758.1 L850 758.8 L857.5 758.8 L862.5 761.9 L867.5 759.4 L873.5 758.5"/>
<path class="b" d="M843.1 758.1 L838.1 761.2 L833.8 766.2 L830 773.8 L826.2 781.2 L822.5 783.8 L816.2 785 L810 784.4 L803.8 786.2 L798.8 788.8 L795 790"/>
<path class="b" d="M816.2 785 L820 788.8"/>
<path class="b" d="M730 765 L736.2 763.1 L742.5 762.5 L745 765 L744.4 760 L742.5 756.9 L745.6 753.8 L750 751.2 L750.6 748.1 L755.6 749.4"/>
<path class="b" d="M785.6 758.1 L785 761.9 L780 762.5 L779.4 766.2 L778.8 771.9 L776.2 775 L777.5 778.8"/>
<path class="b" d="M730 772.5 L735.6 771.9 L738.8 776.2 L745 778.1 L751.2 779.4 L759.4 780.6 L765 777.5 L771.2 776.2 L777.5 775"/>
<path class="b" d="M751.2 779.4 L748.8 783.1 L750 788.8"/>
<path class="b" d="M777.5 778.8 L773.8 781.2 L770 785 L768.8 790"/>
<path class="b" d="M777.5 778.8 L782.5 783.1 L788.8 788.1 L795 790"/>
<path class="fd" d="M730 698.8 L736.2 698.8 L742.5 703.8 L751.2 704.4 L760.6 701.9"/>
<path class="c" d="M736.9 796.2 L743.8 791.9 L748.8 790.6 L750.6 793.8 L751.9 798.8 L754.4 803.1 L756.9 798.8 L758.8 796.2 L762.5 803.8 L766.2 810 L771.2 816.2 L777.5 821.2 L783.8 825 L790 829.4 L796.2 833.8 L802.5 838.1 L806.9 841.9 L808.8 845 L808.1 851.2 L806.9 857.5 L807.5 862.5 L811.2 866.2 L813.1 868.8 L811.2 872.5 L813.1 875 L816.2 873.1 L815 870 L817.5 878.8 L821.2 881.2 L825 882.5 L823.1 885 L819.4 886.2 L820 890"/>
<path class="c" d="M736.9 796.2 L737.5 802.5 L736.9 806.9 L739.4 811.2 L745 816.2 L750 820 L752.5 824.4 L754.4 830 L758.8 835 L765 840 L771.2 843.1 L775.6 845 L773.1 848.1 L778.8 851.2 L785 855 L791.2 858.8 L796.2 862.5 L798.8 866.2 L797.5 870 L795 868.1 L791.9 864.4 L787.5 861.9 L783.8 861.9 L781.2 865.6 L779.4 870 L781.2 873.8 L784.4 876.9 L783.8 881.2 L779.4 881.9 L780 886.2 L778.8 890.2"/>
<path class="c" d="M730 837.5 L733.8 841.2 L738.8 846.2 L743.8 850.6 L748.8 851.9 L752.5 855 L755 858.1 L759.4 859.4 L762.5 863.1 L766.2 866.2 L771.2 867.5 L773.1 872.5 L775.6 878.8 L776.2 883.8 L773.1 886.2 L773.1 890.2"/>
<path class="c" d="M756.9 797.5 L759.4 796.9 L761.2 805 L759.4 804.4Z"/>
<path class="c" d="M763.1 806.9 L765.6 806.9 L768.8 811.2 L766.2 811.2Z"/>
<path class="c" d="M763.8 813.1 L767.5 815 L765.6 815.6Z"/>
<path class="c" d="M778.8 823.1 L782.5 823.8 L785.6 828.1 L782.5 828.1Z"/>
<path class="c" d="M785 828.1 L788.8 828.8 L791.2 831.9 L788.1 831.5Z"/>
<path class="c" d="M738.5 815.6 L739.5 815.6 L739.5 816.6 L738.5 816.6Z"/>
<path class="b" d="M748.8 781.9 L750.6 787.5 L750 792.5 L750.6 793.8 L754.4 792.5 L760 793.1 L764.4 791.9 L767.5 793.8 L770 788.1 L772.5 785 L775.6 781.2 L780 780.6 L785 785 L790 788.8 L796.2 790.6 L801.2 788.1 L807.5 785.6 L815 784.4 L821.2 783.8 L826.2 781.9 L827.5 780"/>
<path class="b" d="M771.2 799.4 L773.8 798.8 L778.8 798.1 L785 798.8 L792.5 799.4 L800 800 L803.8 802.5 L806.9 798.8"/>
<path class="b" d="M771.2 799.4 L772.5 805 L776.2 810.6 L780 815.6 L785 820.6 L790 825.6 L795 831.2 L799.4 835 L805 838.8 L807.5 841.2"/>
<path class="b" d="M803.8 802.5 L806.9 805.6 L805 811.2 L809.4 813.8 L808.1 818.1 L805 822.5 L801.9 825 L799.4 828.1 L799.4 833.8"/>
<path class="b" d="M802.5 788.1 L803.8 793.8 L806.2 798.8 L803.8 802.5"/>
<path class="b" d="M816.2 785.6 L820 790 L822.5 795 L828.8 799.4 L828.8 803.1 L833.8 806.2 L840 806.2 L841.2 811.2 L838.1 816.2 L838.8 821.2 L842.5 825.6 L839.4 830 L838.1 835 L837.5 837.5"/>
<path class="b" d="M841.2 811.2 L842.5 816.2 L850 817.5 L860 818.8 L867.5 820 L873.8 816.2"/>
<path class="b" d="M801.9 825 L805 823.1 L810 826.2 L815 828.1 L812.5 832.5 L810 835 L806.9 838.8 L806.2 841.9"/>
<path class="b" d="M816.2 830 L821.9 825 L826.2 828.8 L831.2 833.1 L829.4 838.1 L823.1 840 L820 841.2 L817.5 836.9Z"/>
<path class="b" d="M820 841.2 L823.1 840 L829.4 838.1 L837.5 837.5 L841.9 841.9 L843.1 847.5 L840 852.5 L832.5 855 L825 856.2 L820.6 853.8 L818.8 848.1Z"/>
<path class="b" d="M810 835 L816.2 830"/>
<path class="b" d="M825 856.2 L823.1 861.2 L820 866.2 L817.5 870 L816.2 873.1"/>
<path class="b" d="M843.1 847.5 L848.8 849.4 L858.8 847.5 L865 851.2 L873.8 850.6"/>
<path class="c" d="M873.8 856.9 L867.5 855 L860 855 L855 856.2 L850.6 858.1 L851.9 861.9 L850 866.2 L845.6 865 L842.5 860 L839.4 861.2 L840 867.5 L843.1 872.5 L846.2 876.9 L848.8 880 L851.9 882.5 L855 886.2 L855 888.8 L851.9 888.1 L847.5 884.4 L843.1 882.5 L839.4 883.1 L843.8 880 L842.5 877.5"/>
<path class="c" d="M850 866.2 L855 863.8 L856.2 867.5"/>
<path class="c" d="M851.9 861.9 L857.5 860 L861.2 857.5"/>
<path class="c" d="M843.1 881.2 L850 885 L855 888.8"/>
<path class="c" d="M811.9 871.9 L813.1 871 L814 874.8 L812.8 875Z"/>
<path class="c" d="M857.8 881.2 L859.4 880.6 L860 883.1 L858.5 883.5Z"/>
<path class="c" d="M865 869 L866.9 868.5 L867.5 870 L865.6 870.2Z"/>
<path class="c" d="M868.5 861.9 L870.2 861.5 L870.2 863.5 L868.8 863.5Z"/>
<path class="c" d="M871.9 878.1 L873.5 877.5 L873.5 879.8Z"/>
<path class="c" d="M858.8 858.8 L860.6 858.1 L861.2 860 L859.4 860.6Z"/>
<path class="c" d="M870 870 L871.9 875"/>
<path class="fd" d="M730 819.4 L747.5 821.2 L758.8 821.2"/>
<path class="fd" d="M747.5 821.2 L745 830 L756.2 845 L766.2 853.8 L772.5 870 L777.5 880 L802.5 881.9"/>
<path class="fd" d="M745 793.8 L746.9 803.8 L761.2 821.2 L780 837.5 L797.5 848.1 L803.1 852.5 L808.1 843.8"/>
<path class="fd" d="M803.1 852.5 L803.8 890"/>
<path class="f" d="M797.5 848.1 L800 838.8"/>
<path class="b" d="M616.2 832.5 L622.5 831.2 L627.5 833.1 L631.2 834.4 L635 835.6 L641.2 836.9 L646.9 836.2"/>
<path class="b" d="M630 833.1 L632.2 833.1 L632.5 835.4 L630.2 835.4Z"/>
<path class="c" d="M646.9 836.2 L646.2 830 L648.8 825.6 L652.5 822.5 L656.2 820.6 L660 823.1 L665 823.1 L670 826.2 L675 827.5 L680 826.2 L683.8 823.1 L687.5 819.4 L691.9 817.5 L696.2 813.8 L700 810.6 L703.8 809.4 L708.8 811.2 L713.1 813.8 L716.9 816.2 L718.1 821.2 L720 826.2 L721.9 830 L726.2 835 L730.6 838.8 L735 843.1 L738.8 847.5 L743.8 851.2 L750 852.5"/>
<path class="c" d="M646.9 836.2 L648.1 840.6 L643.8 845 L637.5 850 L631.2 852.5 L625.6 855 L623.1 858.8 L620 863.1 L616.2 868.1 L613.8 872.5 L613.1 876.9 L615.6 881.2 L618.1 883.8 L615 886.2 L611.2 890"/>
<path class="b" d="M691.9 817.5 L692.5 813.8 L687.5 812.5 L685 809.4 L686.2 805 L682.5 801.9 L682.5 798.8 L686.9 796.2 L686.2 792.5 L683.8 790 L685 787.5"/>
<path class="b" d="M676.2 782.5 L681.2 781.2 L683.1 785 L685 788.8 L692.5 787.5 L696.9 785 L698.8 781.2 L703.8 786.2 L705 789.4 L707.5 783.8 L710 780.6 L715 781.2"/>
<path class="c" d="M674.4 783.8 L675.6 783.5 L675.6 785.2 L674.6 785.2Z"/>
<path class="c" d="M708.8 828.8 L710 829.4 L710.6 835 L710.6 841.2 L708.8 847.5 L706.2 849.4 L703.8 846.2 L701.9 841.2 L701.9 836.2 L704.4 833.1 L708.1 832.5Z"/>
<path class="c" d="M698.1 853.8 L701.9 856.9 L706.2 853.1 L710 852.5 L711.9 856.2 L713.1 861.9 L711.9 867.5 L711.2 875 L707.5 878.1 L704.4 881.2 L700 880.6 L699.4 875 L700 868.8 L698.1 862.5 L697.5 857.5Z"/>
<path class="c" d="M716.9 831 L719.4 831 L719.4 832 L716.9 832Z"/>
<path class="c" d="M639.4 873.1 L643.1 870 L647.5 869.4 L650.6 871.9 L649.4 875.6 L646.2 876.9 L642.5 875Z"/>
<path class="c" d="M654.4 867.5 L658.1 867.5 L658.8 869.4 L655.6 869Z"/>
<path class="c" d="M628.8 880.6 L631.2 879.4 L632.5 881.2 L630.6 883.8 L629.4 882.5Z"/>
<path class="c" d="M630.4 884.4 L631.9 884.4 L631.9 885.2Z"/>
<path class="fs" d="M645 780 L646.2 792.5 L645 811.2 L642.5 822.5 L638.8 828.8 L643.1 835.6"/>
<path class="fd" d="M645 780.6 L675 780"/>
<path class="fd" d="M649.4 837.5 L661.9 841.2 L662.5 880 L652.5 890"/>
<path class="fd" d="M662.5 880 L695.6 880.6 L700 883.8 L712.5 890"/>
<path class="fd" d="M695.6 880.6 L695.6 855 L698.1 850.6 L711.9 850 L713.1 824.4 L691.9 818.1"/>
<path class="fd" d="M713.1 824.4 L716.9 821.2 L726.2 819.4 L737.5 820 L747.5 821.2 L750 823.1"/>
<path class="fd" d="M615 833.8 L607.5 861.2 L601.2 890"/>
<path class="fd" d="M695.6 881.2 L697.5 890"/>
<path class="c" d="M750 790.6 L743.8 792.5 L738.8 795 L737.5 800 L738.1 806.9 L739.4 811.9 L743.8 816.2 L750 820"/>
<path class="f" d="M750 793.8 L745.6 796.2 L746.9 802.5 L750 808.8"/>
<path class="c" d="M738.5 815.6 L739.8 815.6 L739.8 816.6Z"/>
<path class="c" d="M598.8 823.8 L593.8 823.8 L587.5 823.1 L581.2 821.9 L573.8 823.1 L566.2 821.9 L558.8 820 L551.2 820.6 L545 820.6 L541.2 818.1 L538.1 818.8 L534.4 821.2 L532.5 823.8 L526.2 825.6 L525 828.1 L526.2 831.2 L528.1 833.1 L527.5 835 L530 837.5 L528.8 841.2 L529.4 847.5 L530.6 853.8 L530 860 L528.1 867.5 L526.2 873.1 L523.8 877.5 L522.5 883.8 L525 885.6 L526.9 881.2 L528.8 880 L526.9 885 L530 887.5 L528.8 890"/>
<path class="b" d="M528.8 841.2 L532.5 840 L535 841.2 L536.2 843.8 L542.5 843.8 L547.5 841.9 L551.9 842.5 L551.9 846.2 L555.6 848.1 L552.5 851.2 L548.8 855 L549.4 861.2 L546.9 866.2 L548.1 870 L545 872.5 L541.9 873.1 L545 877.5 L547.5 880 L544.4 883.8 L545 890"/>
<path class="c" d="M599.4 780 L605 782.5 L605.6 787.5 L602.5 786.9 L605.6 791.9 L608.8 795 L610.6 800.6 L607.5 794.4 L605.6 795 L604.4 805 L603.8 812.5 L602.5 820 L598.8 823.8"/>
<path class="b" d="M598.8 823.8 L601.2 826.2 L606.2 829.4 L611.2 831.2 L616.2 833.1 L620 833.8"/>
<path class="c" d="M620 862.5 L616.2 867.5 L613.1 873.8 L613.8 878.8 L616.9 882.5 L618.8 885 L615 887.5 L611.2 890"/>
<path class="fl" d="M357.5 801 L537.5 800.8"/>
<path class="fd" d="M537.5 780 L537.5 800.6"/>
<path class="fd" d="M537.5 801.2 L557.5 806.2 L576.2 810 L597.5 820"/>
<path class="fs" d="M600 780 L598.8 823.8"/>
<path class="f" d="M487.5 801.9 L487.5 828.8"/>
<path class="fd" d="M487.5 828.8 L471.9 839.4"/>
<path class="fd" d="M487.5 828.8 L513.8 841.2 L527.5 843.8"/>
<path class="fd" d="M615 833.8 L607.5 865 L601.2 890"/>
<path class="fd" d="M467.8 841.6 L467.8 890"/>
<path class="fd" d="M487.7 829.3 L467.8 841.6"/>
<path class="b" d="M852 680 L849 686 L845 691.2"/>
</g>
<clipPath id="trap"><path d="M416.4 440.8 H426.7 L430.5 452.5 H412.6Z"/></clipPath>
<path d="M416.4 440.8 H426.7 L430.5 452.5 H412.6Z" fill="#fff"/>
<use href="#pl" clip-path="url(#trap)"/>
<g fill="none" stroke="#000" stroke-linejoin="miter" stroke-linecap="butt">
<path d="M416.4 440.8 L412.6 452.5 M426.7 440.8 L430.5 452.5" stroke-width="1.4"/>
<path d="M412.2 452.5 H419.8 M424.2 452.5 H430.9" stroke-width="2.5"/>
<path d="M416 440.8 H427.1" stroke-width="1.7"/>
<path d="M421.5 440.6 V434.3" stroke-width="1.3"/><path d="M426.7 440.6 L428.9 434.3" stroke-width="1.5"/><path d="M416.4 440.6 L414.6 434.8" stroke-width="1.5"/>
</g>
<rect x="357.5" y="321.5" width="516.0" height="569.0" fill="none" stroke="#000" stroke-width="1.1"/>
</svg>
<div class="sw" style="left:248px;background:#a0d2ff"></div>
<div class="sw" style="left:421px;background:#ff9900"></div>
<div class="sw" style="left:618px;background:#ff2a00"></div>
<div class="sw" style="left:802px;background:#aa00aa"></div>
<div class="t" style="left:438.29px;top:31.30px;font-size:26.49px;transform:scaleX(1.0695);">Modelled Ash Concentration</div>
<div class="t" style="left:496.94px;top:65.00px;font-size:23.55px;transform:scaleX(1.0309);">From FL000 to FL050</div>
<div class="t" style="left:524.13px;top:91.00px;font-size:23.55px;transform:scaleX(0.9363);">For LANGJOKULL</div>
<div class="t" style="left:449.04px;top:117.70px;font-size:23.55px;transform:scaleX(1.0540);">Valid at 0900 UTC 31/12/2025</div>
<div class="t" style="left:362.14px;top:159.20px;font-size:14.72px;transform:scaleX(1.0597);">This chart displays QVA compliant concentration data from VAAC London</div>
<div class="t" style="left:467.07px;top:174.70px;font-size:14.72px;transform:scaleX(1.0675);">FIR boundaries are indicated for reference</div>
<div class="t" style="left:492.59px;top:191.90px;font-size:14.72px;transform:scaleX(1.0446);">Issue Time: 2100 UTC 30 Dec 2025</div>
<div class="t" style="left:512.83px;top:215.10px;font-size:26.49px;transform:scaleX(0.9425);color:#dd0000;">TEST TEST TEST</div>
<div class="t" style="left:279.57px;top:247.10px;font-size:11.2px;transform:scaleX(1.1293);">Low 0.2 - 2.0 mg m<sup>−3</sup></div>
<div class="t" style="left:452.56px;top:247.10px;font-size:11.2px;transform:scaleX(1.1356);">Medium 2.0 - 5.0 mg m<sup>−3</sup></div>
<div class="t" style="left:649.34px;top:247.10px;font-size:11.2px;transform:scaleX(1.1562);">High 5.0 - 10.0 mg m<sup>−3</sup></div>
<div class="t" style="left:833.91px;top:247.10px;font-size:11.2px;transform:scaleX(1.1407);">Very High &nbsp;≥&nbsp; 10.0 mg m<sup>−3</sup></div>
<div class="t" style="left:391.44px;top:293.00px;font-size:20.2px;transform:scaleX(1.0577);">20°W</div>
<div class="t" style="left:391.44px;top:894.80px;font-size:20.2px;transform:scaleX(1.0577);">20°W</div>
<div class="t" style="left:490.94px;top:293.00px;font-size:20.2px;transform:scaleX(1.0417);">10°W</div>
<div class="t" style="left:490.94px;top:894.80px;font-size:20.2px;transform:scaleX(1.0417);">10°W</div>
<div class="t" style="left:605.19px;top:293.00px;font-size:20.2px;transform:scaleX(1.0841);">0°</div>
<div class="t" style="left:605.19px;top:894.80px;font-size:20.2px;transform:scaleX(1.0841);">0°</div>
<div class="t" style="left:692.24px;top:293.00px;font-size:20.2px;transform:scaleX(1.0410);">10°E</div>
<div class="t" style="left:692.24px;top:894.80px;font-size:20.2px;transform:scaleX(1.0410);">10°E</div>
<div class="t" style="left:790.96px;top:293.00px;font-size:20.2px;transform:scaleX(1.0429);">20°E</div>
<div class="t" style="left:790.96px;top:894.80px;font-size:20.2px;transform:scaleX(1.0429);">20°E</div>
<div class="t" style="left:301.93px;top:436.80px;font-size:20.2px;transform:scaleX(1.0659);">65°N</div>
<div class="t" style="left:879.93px;top:436.80px;font-size:20.2px;transform:scaleX(1.0659);">65°N</div>
<div class="t" style="left:301.93px;top:543.80px;font-size:20.2px;transform:scaleX(1.0659);">60°N</div>
<div class="t" style="left:879.93px;top:543.80px;font-size:20.2px;transform:scaleX(1.0659);">60°N</div>
<div class="t" style="left:302.21px;top:635.80px;font-size:20.2px;transform:scaleX(1.0596);">55°N</div>
<div class="t" style="left:880.21px;top:635.80px;font-size:20.2px;transform:scaleX(1.0596);">55°N</div>
<div class="t" style="left:302.21px;top:716.80px;font-size:20.2px;transform:scaleX(1.0596);">50°N</div>
<div class="t" style="left:880.21px;top:716.80px;font-size:20.2px;transform:scaleX(1.0596);">50°N</div>
<div class="t" style="left:302.47px;top:789.80px;font-size:20.2px;transform:scaleX(1.0535);">45°N</div>
<div class="t" style="left:880.47px;top:789.80px;font-size:20.2px;transform:scaleX(1.0535);">45°N</div>
<div class="t" style="left:302.47px;top:856.80px;font-size:20.2px;transform:scaleX(1.0535);">40°N</div>
<div class="t" style="left:880.47px;top:856.80px;font-size:20.2px;transform:scaleX(1.0535);">40°N</div>
<div class="t" style="left:61.43px;top:962.90px;font-size:14.72px;transform:scaleX(1.0667);">© Met Office Crown Copyright</div>
<div class="t" style="left:13.46px;top:92.00px;font-size:21.4px;transform:scaleX(0.8909);font-weight:bold;">Met Office</div>
</body></html>
